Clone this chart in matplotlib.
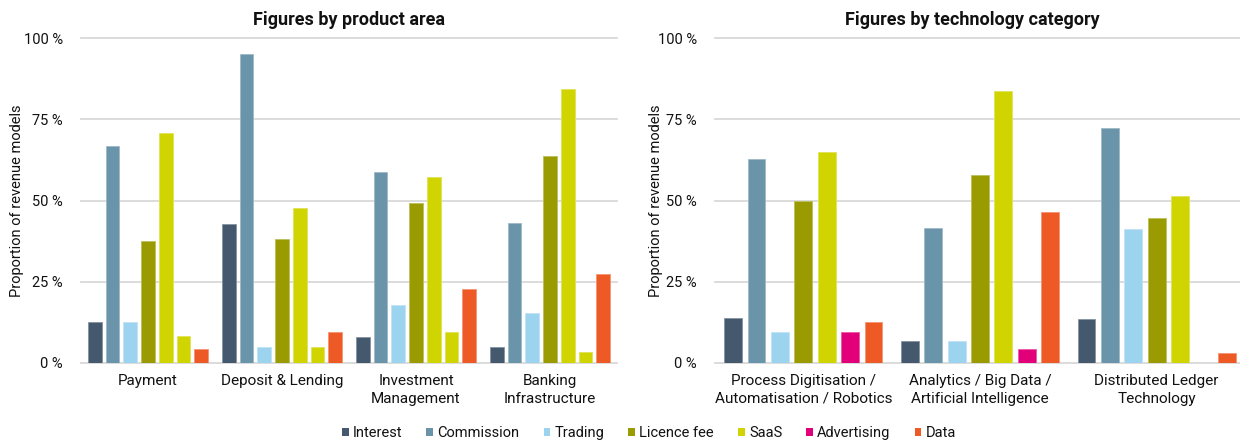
import matplotlib
matplotlib.use("Agg")
import matplotlib.pyplot as plt
from matplotlib.patches import Patch
import numpy as np

plt.rcParams['font.family'] = ['Roboto', 'DejaVu Sans']

# Revenue models (series) and their colours
models = ["Interest", "Commission", "Trading", "Licence fee", "SaaS", "Advertising", "Data"]
model_colors = ["#44596e", "#6a94aa", "#9cd4ef", "#999b00", "#d0d400", "#e2007a", "#ee5a26"]
# the product-area panel shows its advertising bars in the SaaS yellow
product_colors = ["#44596e", "#6a94aa", "#9cd4ef", "#999b00", "#d0d400", "#d0d400", "#ee5a26"]

# Left panel: share of revenue models per product area (%)
product_areas = ["Payment", "Deposit & Lending", "Investment\nManagement", "Banking\nInfrastructure"]
pa_interest    = [12.5, 42.9,  7.9,  4.9]
pa_commission  = [66.7, 95.2, 58.9, 43.0]
pa_trading     = [12.5,  4.8, 17.8, 15.3]
pa_licence     = [37.5, 38.1, 49.1, 63.7]
pa_saas        = [70.8, 47.6, 57.2, 84.4]
pa_advertising = [ 8.3,  4.8,  9.6,  3.2]
pa_data        = [ 4.2,  9.5, 22.7, 27.3]

# Right panel: share of revenue models per technology category (%)
tech_categories = ["Process Digitisation /\nAutomatisation / Robotics",
                   "Analytics / Big Data /\nArtificial Intelligence",
                   "Distributed Ledger\nTechnology"]
tc_interest    = [13.7,  6.6, 13.4]
tc_commission  = [62.9, 41.6, 72.3]
tc_trading     = [ 9.5,  6.6, 41.1]
tc_licence     = [49.8, 58.0, 44.5]
tc_saas        = [65.0, 83.7, 51.5]
tc_advertising = [ 9.5,  4.3,  0.0]
tc_data        = [12.6, 46.4,  3.1]

y_ticks = [0, 25, 50, 75, 100]
y_tick_labels = ["0 %", "25 %", "50 %", "75 %", "100 %"]

TEXT = "#111111"
GRID = "#d9d9d9"
FS = 11


def lighten(hex_color, amount=0.35):
    rgb = np.array(matplotlib.colors.to_rgb(hex_color))
    return tuple(rgb + (1 - rgb) * amount)


def draw_panel(ax, categories, series, colors):
    n = len(series)
    pitch = 0.1325
    width = 0.101
    x = np.arange(len(categories))
    for i, (vals, col) in enumerate(zip(series, colors)):
        ax.bar(x + (i - (n - 1) / 2) * pitch, vals, width=width,
               color=col, edgecolor=lighten(col), linewidth=0.6, zorder=3)
    ax.set_xlim(-0.5, len(categories) - 0.5)
    ax.set_ylim(0, 100)
    ax.set_yticks(y_ticks)
    ax.set_yticklabels(y_tick_labels)
    ax.set_xticks(x)
    ax.set_xticklabels(categories, linespacing=1.35)
    ax.tick_params(axis="both", length=0, colors=TEXT)
    ax.tick_params(axis="x", labelsize=FS, pad=8)
    ax.tick_params(axis="y", labelsize=10.5, pad=13)
    for s in ax.spines.values():
        s.set_visible(False)
    ax.grid(axis="y", color=GRID, linewidth=1.3, zorder=0)
    for gl in ax.get_ygridlines():
        gl.set_clip_on(False)
    ax.set_axisbelow(True)
    ax.set_ylabel("Proportion of revenue models", fontsize=10.5, color=TEXT)


fig = plt.figure(figsize=(12.4, 4.44), dpi=100)

ax1 = fig.add_axes([81 / 1240, 0.1831, 536 / 1240, 0.7306])
draw_panel(ax1, product_areas,
           [pa_interest, pa_commission, pa_trading, pa_licence, pa_saas, pa_advertising, pa_data],
           product_colors)
ax1.yaxis.set_label_coords(-0.107, 0.5)

ax2 = fig.add_axes([715 / 1240, 0.1831, 530 / 1240, 0.7306])
draw_panel(ax2, tech_categories,
           [tc_interest, tc_commission, tc_trading, tc_licence, tc_saas, tc_advertising, tc_data],
           model_colors)
ax2.yaxis.set_label_coords(-0.098, 0.5)

fig.text(349 / 1240, 1 - 20 / 444, "Figures by product area", ha="center", va="center",
         fontsize=13, fontweight="bold", color=TEXT)
fig.text(972 / 1240, 1 - 20 / 444, "Figures by technology category", ha="center", va="center",
         fontsize=13, fontweight="bold", color=TEXT)

handles = [Patch(facecolor=c, edgecolor="none") for c in model_colors]
fig.legend(handles, models, loc="center", bbox_to_anchor=(649 / 1240, 1 - 433 / 444),
           ncol=len(models), frameon=False, fontsize=10.5, handlelength=0.45,
           handleheight=0.45, handletextpad=0.3, columnspacing=1.65,
           borderaxespad=0, labelcolor=TEXT)

fig.savefig("out.png", dpi=100)
